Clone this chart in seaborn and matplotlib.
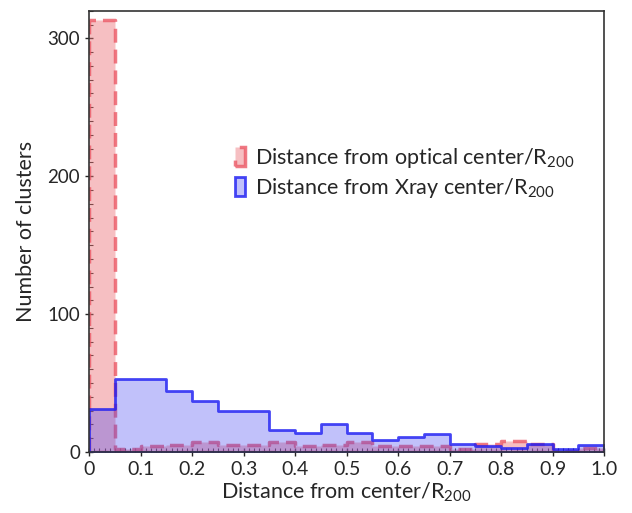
import numpy as np
import pandas as pd
import matplotlib
matplotlib.use("Agg")
import matplotlib.pyplot as plt
from matplotlib.ticker import MultipleLocator, FuncFormatter
import seaborn as sns

# histogram counts per bin (bin width 0.05, from 0 to 1)
bin_width = 0.05
optical_counts = [313, 2, 4, 5, 7, 5, 5, 7, 4, 5, 7, 4, 4, 4, 2, 6, 8, 6, 1, 3]
xray_counts = [31, 53, 53, 44, 37, 30, 30, 16, 14, 20, 14, 9, 11, 13, 6, 4, 3, 6, 2, 5]
optical_label = r"Distance from optical center/R$_{\mathregular{200}}$"
xray_label = r"Distance from Xray center/R$_{\mathregular{200}}$"

n_bins = len(optical_counts)
centers = (np.arange(n_bins) + 0.5) * bin_width

df = pd.DataFrame({"center": centers, "optical": optical_counts, "xray": xray_counts})

sns.set_style("ticks")
plt.rcParams["font.family"] = ["Lato", "DejaVu Sans"]
plt.rcParams["mathtext.fontset"] = "custom"
plt.rcParams["mathtext.rm"] = "Lato"
plt.rcParams["mathtext.it"] = "Lato:italic"

fig = plt.figure(figsize=(6.32, 5.13), dpi=100)
ax = fig.add_axes([0.141, 0.119, 0.815, 0.860])

sns.histplot(data=df, x="center", weights="optical", binwidth=bin_width, binrange=(0, 1),
             element="step", fill=True,
             facecolor=(0.93, 0.45, 0.47, 0.45), edgecolor=(0.92, 0.35, 0.40, 0.8),
             linestyle=(0, (4, 2)), linewidth=2.5, label=optical_label, ax=ax)
sns.histplot(data=df, x="center", weights="xray", binwidth=bin_width, binrange=(0, 1),
             element="step", fill=True,
             facecolor=(0.25, 0.25, 0.95, 0.32), edgecolor=(0.1, 0.1, 0.95, 0.8),
             linewidth=2.0, label=xray_label, ax=ax)

ax.set_xlim(0, 1)
ax.set_ylim(0, 320)
ax.xaxis.set_major_locator(MultipleLocator(0.1))
ax.xaxis.set_minor_locator(MultipleLocator(0.01))
ax.yaxis.set_major_locator(MultipleLocator(100))
ax.yaxis.set_minor_locator(MultipleLocator(10))
ax.xaxis.set_major_formatter(FuncFormatter(lambda v, p: "0" if abs(v) < 1e-9 else f"{v:.1f}"))
ax.tick_params(which="major", direction="inout", length=6, width=1, labelsize=14)
ax.tick_params(which="minor", direction="in", length=3, width=0.8)
ax.tick_params(axis="y", labelsize=13.5)
for s in ax.spines.values():
    s.set_color("#333333")
    s.set_linewidth(1.2)

ax.set_xlabel(r"Distance from center/R$_{\mathregular{200}}$", fontsize=15.5, labelpad=2)
ax.set_ylabel("Number of clusters", fontsize=15.5, labelpad=8)

ax.legend(loc="upper left", bbox_to_anchor=(0.245, 0.738), frameon=False, fontsize=15.5,
          handlelength=0.5, handleheight=1.0, handletextpad=0.45, labelspacing=0.3)

fig.savefig("out.png", dpi=100)
